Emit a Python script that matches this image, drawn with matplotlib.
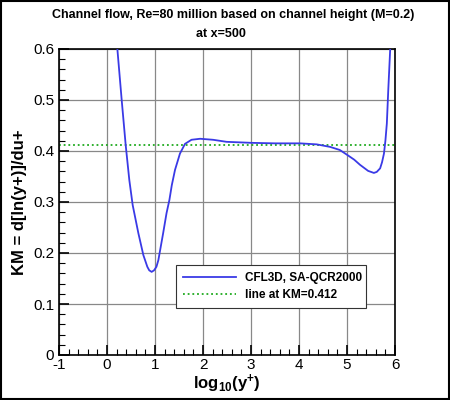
import matplotlib
matplotlib.use("Agg")
import matplotlib.pyplot as plt
from matplotlib.ticker import MultipleLocator
from matplotlib.patches import Rectangle

plt.rcParams['font.family'] = ['Liberation Sans', 'DejaVu Sans']
plt.rcParams['axes.unicode_minus'] = False
plt.rcParams['mathtext.fontset'] = 'custom'
plt.rcParams['mathtext.rm'] = 'Liberation Sans:bold'
plt.rcParams['mathtext.bf'] = 'Liberation Sans:bold'
plt.rcParams['mathtext.it'] = 'Liberation Sans:bold'

log_yplus = [0.10, 0.215, 0.306, 0.389, 0.465, 0.535, 0.653, 0.757, 0.84, 0.88,
             0.93, 0.98, 1.03, 1.07, 1.17, 1.24, 1.30, 1.35, 1.417, 1.52, 1.625,
             1.76, 1.94, 2.21, 2.49, 3.01, 3.5, 4.02, 4.37, 4.65, 4.85, 5.01,
             5.15, 5.27, 5.44, 5.56, 5.62, 5.69, 5.73, 5.77, 5.80, 5.83, 5.86,
             5.90, 5.93]
km_values = [0.80, 0.601, 0.50, 0.412, 0.343, 0.294, 0.239, 0.196, 0.173, 0.166,
             0.163, 0.166, 0.173, 0.186, 0.239, 0.278, 0.304, 0.333, 0.363, 0.395,
             0.414, 0.422, 0.424, 0.422, 0.418, 0.416, 0.415, 0.415, 0.413, 0.408,
             0.402, 0.392, 0.383, 0.373, 0.361, 0.357, 0.359, 0.366, 0.378, 0.395,
             0.420, 0.454, 0.52, 0.60, 0.70]
km_ref = 0.412
xlim = [-1, 6]
ylim = [0, 0.6]
series_label = "CFL3D, SA-QCR2000"
ref_label = "line at KM=0.412"

fig = plt.figure(figsize=(4.5, 4.0), dpi=100)
ax = fig.add_axes([59/450, 1 - 355/400, 336/450, 306/400])

ax.plot(log_yplus, km_values, color='#3a3ae6', lw=1.3, label=series_label, zorder=3)
ax.axhline(km_ref, color='#1faa1f', lw=1.3, ls=(0, (1, 1.6)), label=ref_label, zorder=2)

ax.set_xlim(xlim)
ax.set_ylim(ylim)
ax.xaxis.set_major_locator(MultipleLocator(1))
ax.xaxis.set_minor_locator(MultipleLocator(0.2))
ax.yaxis.set_major_locator(MultipleLocator(0.1))
ax.yaxis.set_minor_locator(MultipleLocator(0.02))
ax.xaxis.set_major_formatter(plt.FuncFormatter(lambda v, p: f'{int(round(v))}'))
ax.yaxis.set_major_formatter(plt.FuncFormatter(lambda v, p: '0' if abs(v) < 1e-9 else f'{v:.1f}'))
ax.tick_params(which='both', direction='in', top=False, right=False, labelsize=11)
ax.tick_params(which='major', length=7, width=1.2)
ax.tick_params(which='minor', length=4, width=0.8)
ax.tick_params(axis='x', pad=2)
ax.grid(True, which='major', color='#888888', lw=0.9)
for s in ax.spines.values():
    s.set_linewidth(1.2)

ax.set_xlabel(r'$\mathbf{log_{10}(y^{+})}$', fontsize=12, labelpad=1)
ax.set_ylabel('KM = d[ln(y+)]/du+', fontsize=12, fontweight='bold', labelpad=4)

fig.text(233/450, 1 - 15/400, 'Channel flow, Re=80 million based on channel height (M=0.2)',
         ha='center', va='center', fontsize=9, fontweight='bold')
fig.text(221/450, 1 - 34/400, 'at x=500', ha='center', va='center', fontsize=9,
         fontweight='bold')

leg = ax.legend(loc='lower left', bbox_to_anchor=(0.33, 0.134, 0.6, 0.156), mode='expand',
                handlelength=4.5, fancybox=False, framealpha=1,
                edgecolor='#333333', prop={'weight': 'bold', 'size': 8.5},
                borderpad=0.6, labelspacing=0.45)
leg.get_frame().set_linewidth(0.8)

fig.patches.append(Rectangle((0.002, 0.002), 0.996, 0.996, transform=fig.transFigure,
                             fill=False, edgecolor='black', lw=1.5))

fig.savefig('out.png', dpi=100)
